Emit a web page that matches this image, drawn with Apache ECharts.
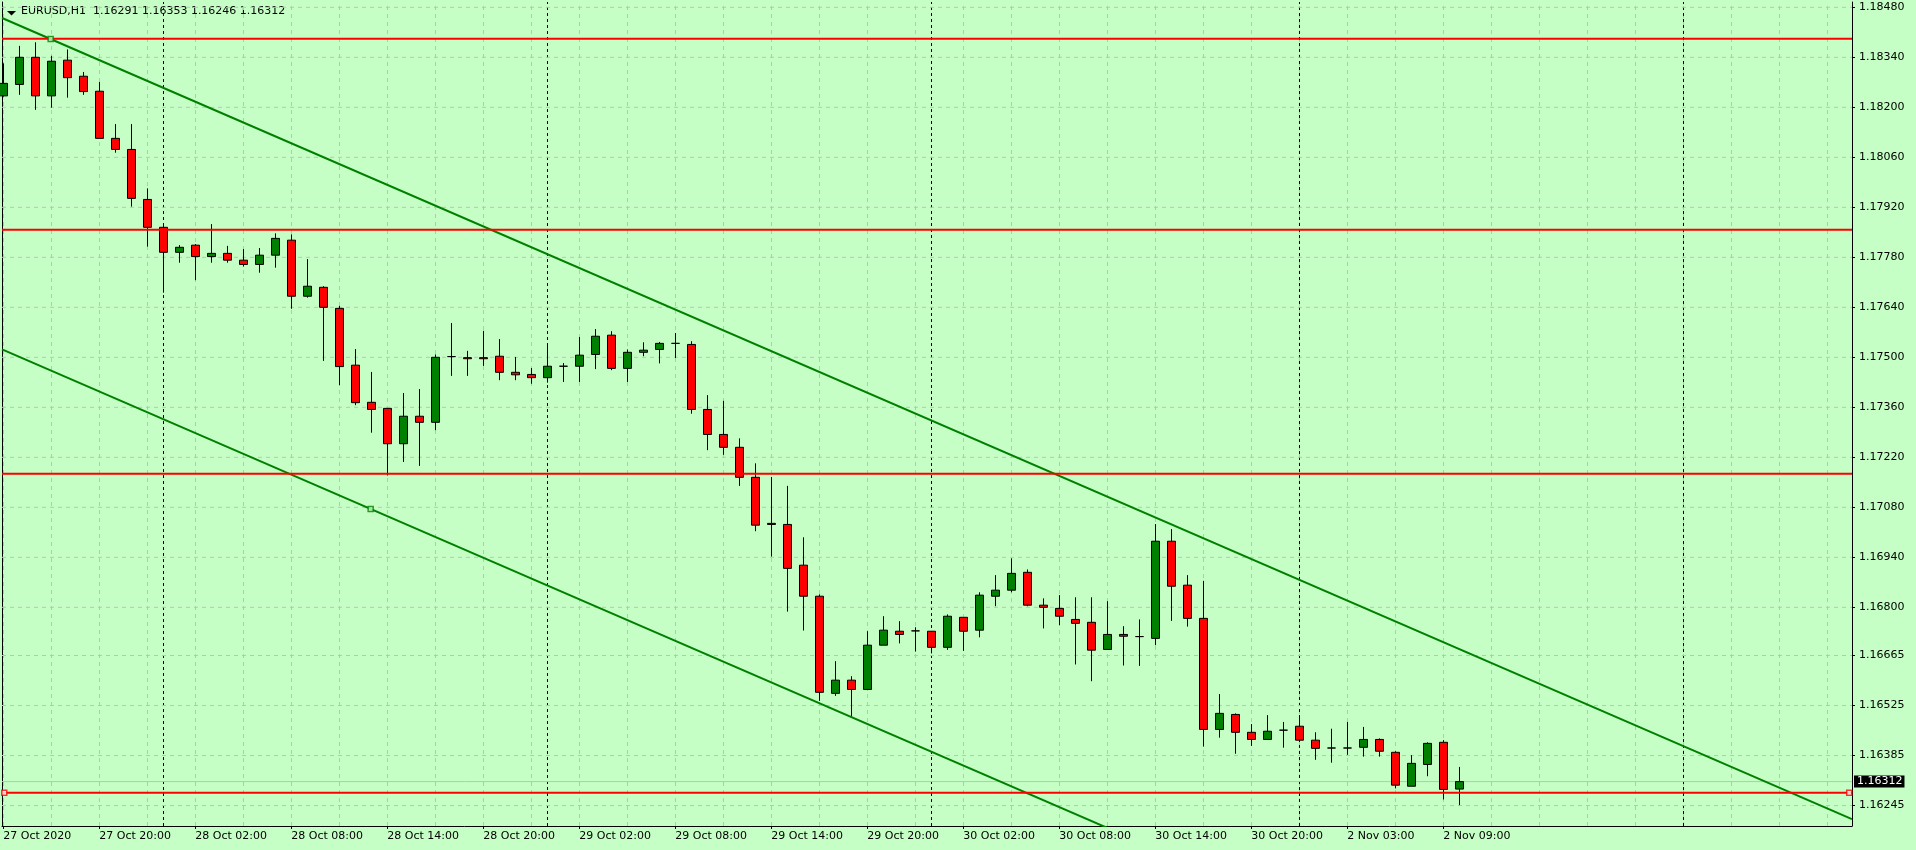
<!DOCTYPE html>
<html><head><meta charset="utf-8">
<script src="https://cdn.jsdelivr.net/npm/echarts@6.0.0/dist/echarts.min.js"></script>
<style>html,body{margin:0;padding:0;background:#C5FFC5;}#c{width:1916px;height:850px;}</style>
</head><body><div id="c"></div>
<script>
// ---------- data ----------
const headerText = 'EURUSD,H1  1.16291 1.16353 1.16246 1.16312';
const xTickIndex = [0, 6, 12, 18, 24, 30, 36, 42, 48, 54, 60, 66, 72, 78, 84, 90];
const xTickLabels = ['27 Oct 2020', '27 Oct 20:00', '28 Oct 02:00', '28 Oct 08:00', '28 Oct 14:00', '28 Oct 20:00',
  '29 Oct 02:00', '29 Oct 08:00', '29 Oct 14:00', '29 Oct 20:00', '30 Oct 02:00', '30 Oct 08:00',
  '30 Oct 14:00', '30 Oct 20:00', '2 Nov 03:00', '2 Nov 09:00'];
const daySeparators = [10, 34, 58, 81, 105];
const yTickLabels = ['1.18480', '1.18340', '1.18200', '1.18060', '1.17920', '1.17780', '1.17640', '1.17500',
  '1.17360', '1.17220', '1.17080', '1.16940', '1.16800', '1.16665', '1.16525', '1.16385', '1.16245'];

const openP = [1.18232,1.18264,1.18340,1.18232,1.18332,1.18287,1.18245,1.18113,1.18082,1.17942,
  1.17864,1.17794,1.17814,1.17782,1.17791,1.17772,1.17760,1.17786,1.17828,1.17671,
  1.17696,1.17637,1.17478,1.17374,1.17357,1.17258,1.17335,1.17318,1.17502,1.17499,
  1.17499,1.17503,1.17458,1.17452,1.17443,1.17475,1.17475,1.17508,1.17562,1.17469,
  1.17514,1.17522,1.17539,1.17536,1.17354,1.17284,1.17248,1.17164,1.17035,1.17032,
  1.16918,1.16831,1.16559,1.16596,1.16570,1.16694,1.16733,1.16734,1.16733,1.16688,
  1.16772,1.16736,1.16831,1.16848,1.16898,1.16806,1.16797,1.16766,1.16758,1.16682,
  1.16724,1.16718,1.16713,1.16985,1.16862,1.16769,1.16458,1.16500,1.16450,1.16430,
  1.16456,1.16467,1.16428,1.16406,1.16406,1.16408,1.16430,1.16394,1.16299,1.16360,
  1.16422,1.16291];
const highP = [1.18323,1.18372,1.18382,1.18344,1.18362,1.18299,1.18271,1.18153,1.18153,1.17973,
  1.17870,1.17814,1.17817,1.17873,1.17812,1.17803,1.17806,1.17847,1.17844,1.17775,
  1.17699,1.17644,1.17523,1.17459,1.17357,1.17400,1.17411,1.17508,1.17596,1.17518,
  1.17574,1.17551,1.17501,1.17470,1.17537,1.17484,1.17557,1.17579,1.17573,1.17522,
  1.17542,1.17543,1.17568,1.17545,1.17394,1.17378,1.17273,1.17203,1.17165,1.17140,
  1.16996,1.16836,1.16649,1.16607,1.16733,1.16775,1.16761,1.16744,1.16733,1.16780,
  1.16772,1.16842,1.16890,1.16937,1.16906,1.16825,1.16834,1.16828,1.16828,1.16817,
  1.16747,1.16766,1.17033,1.17019,1.16890,1.16874,1.16557,1.16503,1.16473,1.16498,
  1.16479,1.16495,1.16450,1.16460,1.16479,1.16465,1.16433,1.16397,1.16386,1.16422,
  1.16428,1.16353];
const lowP = [1.18230,1.18235,1.18193,1.18199,1.18227,1.18235,1.18113,1.18073,1.17922,1.17810,
  1.17681,1.17765,1.17716,1.17765,1.17765,1.17754,1.17737,1.17751,1.17636,1.17667,
  1.17490,1.17422,1.17366,1.17289,1.17169,1.17207,1.17196,1.17296,1.17448,1.17448,
  1.17476,1.17436,1.17436,1.17426,1.17429,1.17431,1.17431,1.17467,1.17464,1.17431,
  1.17503,1.17483,1.17498,1.17342,1.17240,1.17227,1.17140,1.17013,1.16942,1.16788,
  1.16735,1.16538,1.16552,1.16490,1.16568,1.16694,1.16699,1.16676,1.16671,1.16681,
  1.16678,1.16716,1.16803,1.16842,1.16803,1.16741,1.16750,1.16640,1.16593,1.16682,
  1.16637,1.16636,1.16694,1.16762,1.16746,1.16410,1.16435,1.16390,1.16412,1.16430,
  1.16407,1.16428,1.16373,1.16365,1.16387,1.16382,1.16382,1.16293,1.16299,1.16327,
  1.16262,1.16246];
const closeP = [1.18267,1.18340,1.18232,1.18329,1.18283,1.18244,1.18113,1.18082,1.17945,1.17864,
  1.17794,1.17808,1.17782,1.17791,1.17772,1.17760,1.17786,1.17833,1.17671,1.17699,
  1.17640,1.17474,1.17373,1.17354,1.17258,1.17335,1.17318,1.17500,1.17502,1.17496,
  1.17496,1.17458,1.17451,1.17443,1.17475,1.17475,1.17506,1.17559,1.17469,1.17514,
  1.17520,1.17539,1.17539,1.17354,1.17284,1.17248,1.17164,1.17030,1.17032,1.16909,
  1.16831,1.16562,1.16596,1.16570,1.16694,1.16736,1.16724,1.16734,1.16688,1.16775,
  1.16733,1.16834,1.16848,1.16895,1.16806,1.16800,1.16775,1.16755,1.16680,1.16724,
  1.16719,1.16718,1.16985,1.16859,1.16769,1.16458,1.16503,1.16450,1.16430,1.16453,
  1.16456,1.16428,1.16405,1.16406,1.16406,1.16430,1.16397,1.16302,1.16363,1.16419,
  1.16290,1.16312];

// chart objects (horizontal levels, trendlines, selected-object anchors)
const hLevels = [1.18392, 1.17857, 1.17174, 1.16281];
const upperTrend = [[-0.08, 1.18450], [115.54, 1.16207]];
const lowerTrend = [[-0.08, 1.17522], [70, 1.16163]];
const greenAnchors = [[2.96, 1.18391], [22.96, 1.17075]];
const redAnchors = [[0.06, 1.16281], [115.37, 1.16281]];

// ---------- axes extents ----------
const xMin = -0.08125, xMax = 115.54375;
const yMin = 1.1618764, yMax = 1.1849484;

const BG = '#C5FFC5';
const FONT = 'DejaVu Sans';
const yTickValues = yTickLabels.map(Number);
const lastClose = closeP[closeP.length - 1];

function hLine(v, z, style, extra) {
  return Object.assign({
    type: 'line', z: z, silent: true, symbol: 'none', clip: true, animation: false,
    emphasis: { disabled: true }, yAxisIndex: 0,
    data: [[xMin, v], [xMax, v]], lineStyle: style
  }, extra || {});
}

const vLines = [];
for (let i = 0; i <= xMax; i += 3) vLines.push({ xAxis: i, lineStyle: { color: '#C0C0C0', type: [4, 4], width: 1 } });
daySeparators.forEach(v => vLines.push({ xAxis: v, lineStyle: { color: '#000', type: [3, 3], width: 1 } }));

const series = [];
yTickValues.forEach(v => series.push(hLine(v, 1, { color: '#C0C0C0', type: [4, 4], width: 1 })));
series.push({ type: 'line', data: [], z: 1, silent: true,
  markLine: { silent: true, symbol: ['none', 'none'], z: 1, animation: false, emphasis: { disabled: true },
    label: { show: false }, data: vLines } });
series.push(hLine(lastClose, 1, { color: '#C0C0C0', type: 'solid', width: 1 }, {
  endLabel: { show: true, distance: 2, formatter: lastClose.toFixed(5),
    backgroundColor: '#000', color: '#fff', fontFamily: FONT, fontSize: 11, lineHeight: 12, padding: [0, 2, 0, 3] }
}));
series.push({ type: 'candlestick', z: 2, barWidth: 9, clip: true,
  encode: { x: 0, y: [1, 2, 3, 4] },
  data: openP.map((o, i) => [i, o, closeP[i], lowP[i], highP[i]]),
  itemStyle: { color: '#008000', color0: '#FF0000', borderColor: '#000', borderColor0: '#000',
    borderColorDoji: '#000', borderWidth: 1 } });
series.push({ type: 'line', z: 6, data: upperTrend, symbol: 'none', clip: true, silent: true,
  lineStyle: { color: '#008000', width: 2 } });
series.push({ type: 'line', z: 6, data: lowerTrend, symbol: 'none', clip: true, silent: true,
  lineStyle: { color: '#008000', width: 2 } });
hLevels.forEach(v => series.push(hLine(v, 7, { color: '#FF0000', type: 'solid', width: 2 })));
series.push({ type: 'scatter', z: 8, clip: false, silent: true, symbol: 'rect', symbolSize: 5, data: greenAnchors,
  itemStyle: { color: BG, borderColor: '#008000', borderWidth: 1.5 } });
series.push({ type: 'scatter', z: 8, clip: false, silent: true, symbol: 'rect', symbolSize: 5, data: redAnchors,
  itemStyle: { color: '#fff', borderColor: '#FF0000', borderWidth: 1.5 } });

const chart = echarts.init(document.getElementById('c'), null, { renderer: 'canvas' });
chart.setOption({
  backgroundColor: BG,
  animation: false,
  graphic: [
    { type: 'polygon', shape: { points: [[7, 11], [16, 11], [11.5, 15.5]] }, style: { fill: '#000' } },
    { type: 'text', left: 21, top: 6, style: { text: headerText, font: '11px "DejaVu Sans"', fill: '#000' } }
  ],
  grid: { left: 2, right: 64, top: 2, bottom: 24, containLabel: false, outerBoundsMode: 'none' },
  xAxis: {
    type: 'value', min: xMin, max: xMax,
    axisLine: { show: true, onZero: false, lineStyle: { color: '#000', width: 1 } },
    axisTick: { show: true, length: 3, customValues: xTickIndex, lineStyle: { color: '#000' } },
    axisLabel: { show: true, customValues: xTickIndex, align: 'left', margin: 5, color: '#000',
      fontFamily: FONT, fontSize: 11,
      formatter: v => xTickLabels[xTickIndex.indexOf(Math.round(v))] || '' },
    splitLine: { show: false }
  },
  yAxis: [{
    type: 'value', position: 'right', min: yMin, max: yMax, scale: true,
    axisLine: { show: true, onZero: false, lineStyle: { color: '#000', width: 1 } },
    axisTick: { show: true, length: 3, customValues: yTickValues, lineStyle: { color: '#000' } },
    axisLabel: { show: true, customValues: yTickValues, margin: 7, color: '#000', fontFamily: FONT, fontSize: 11,
      formatter: v => {
        let best = 0, d = Infinity;
        yTickValues.forEach((t, k) => { const e = Math.abs(t - v); if (e < d) { d = e; best = k; } });
        return yTickLabels[best];
      } },
    splitLine: { show: false }
  }, {
    type: 'value', position: 'left', min: yMin, max: yMax, scale: true,
    axisLine: { show: true, onZero: false, lineStyle: { color: '#000', width: 1 } },
    axisTick: { show: false }, axisLabel: { show: false }, splitLine: { show: false }
  }],
  series: series
});
</script></body></html>
